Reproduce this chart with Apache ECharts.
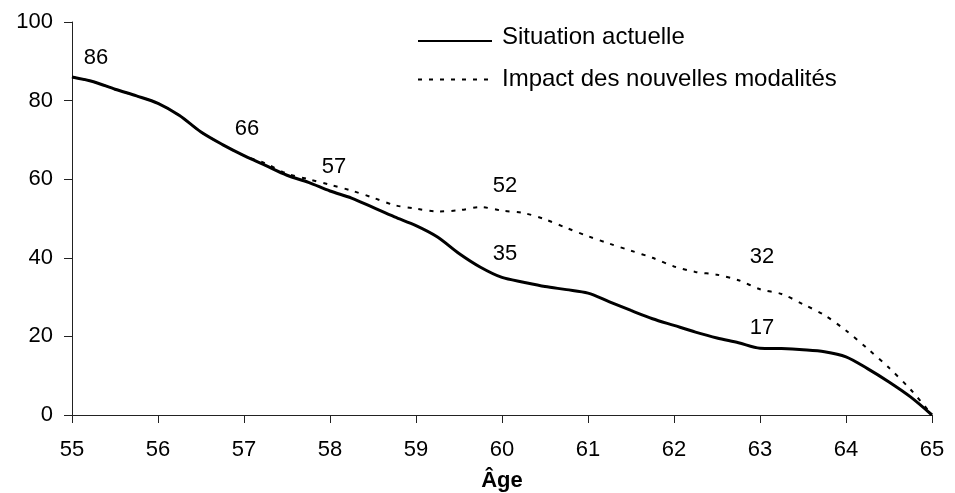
<!DOCTYPE html>
<html>
<head>
<meta charset="utf-8">
<script src="https://cdn.jsdelivr.net/npm/echarts@6/dist/echarts.min.js"></script>
<style>
  html, body { margin: 0; padding: 0; background: #fff; }
  #chart { width: 955px; height: 493px; }
</style>
</head>
<body>
<div id="chart"></div>
<script>
// Ages, sampled every quarter of a year
const ages = [
  55, 55.25, 55.5, 55.75, 56, 56.25, 56.5, 56.75,
  57, 57.25, 57.5, 57.75, 58, 58.25, 58.5, 58.75,
  59, 59.25, 59.5, 59.75, 60, 60.25, 60.5, 60.75,
  61, 61.25, 61.5, 61.75, 62, 62.25, 62.5, 62.75,
  63, 63.25, 63.5, 63.75, 64, 64.25, 64.5, 64.75, 65
];

const seriesNames = ['Situation actuelle', 'Impact des nouvelles modalités'];

const situationActuelle = [
  86, 84.8, 82.9, 81.2, 79.3, 76.2, 72.0, 68.8,
  66, 63.5, 61.0, 59.2, 57, 55.2, 52.8, 50.4,
  48.2, 45.3, 41.1, 37.6, 35, 33.8, 32.7, 31.9,
  31.0, 28.8, 26.6, 24.5, 22.8, 21.1, 19.6, 18.4,
  17, 16.9, 16.6, 16.1, 14.8, 11.8, 8.4, 4.6, 0
];

const nouvellesModalites = [
  86, 84.8, 82.9, 81.2, 79.3, 76.2, 72.0, 68.8,
  66, 64.0, 61.4, 60.0, 58.6, 57.1, 55.3, 53.4,
  52.5, 51.8, 52.1, 52.9, 52, 51.4, 49.8, 47.6,
  45.5, 43.6, 41.8, 40.0, 37.8, 36.4, 35.7, 34.3,
  32, 30.8, 28.2, 25.4, 21.5, 16.9, 12.0, 6.5, 0
];

// Ages whose value is printed next to the curve
const labelledAgesActuelle = [55, 57, 58, 60, 63];
const labelledAgesModalites = [60, 63];

const xTicks = { min: 55, max: 65, interval: 1 };
const yTicks = { min: 0, max: 100, interval: 20 };

// Label placement tweaks (pixels), keyed by age
const labelOffsetsActuelle = { 55: [24, -3], 57: [3, -11], 58: [4, -8], 60: [3, -8], 63: [2, -4] };
const labelOffsetsModalites = { 60: [3, -9], 63: [2, -16] };

const FONT = "'Liberation Sans', Arial, sans-serif";

function curve(values) {
  return ages.map(function (a, i) { return [a, values[i]]; });
}

// Invisible points carrying the printed values
function labelPoints(values, labelled, offsets) {
  return labelled.map(function (a) {
    const v = values[ages.indexOf(a)];
    return {
      value: [a, v],
      label: {
        show: true,
        position: 'top',
        distance: 5,
        offset: offsets[a] || [0, 0],
        formatter: String(v),
        color: '#000',
        opacity: 1,
        fontSize: 22,
        fontFamily: FONT
      }
    };
  });
}

const legendText = { color: '#000', fontSize: 24, fontFamily: FONT };

const chart = echarts.init(document.getElementById('chart'), null, { renderer: 'canvas' });

chart.setOption({
  animation: false,
  backgroundColor: '#ffffff',
  grid: { left: 72, right: 23, top: 22, bottom: 78, outerBoundsMode: 'none' },
  legend: {
    orient: 'vertical',
    left: 412,
    top: 20,
    itemWidth: 74,
    itemHeight: 24,
    itemGap: 17,
    data: seriesNames,
    itemStyle: { opacity: 0 },
    formatter: function (name) {
      return (name === seriesNames[0] ? '{hi|' : '{lo|') + name + '}';
    },
    textStyle: {
      color: '#000', fontSize: 24, fontFamily: FONT, padding: [0, 0, 0, 5],
      rich: {
        hi: Object.assign({ lineHeight: 32, verticalAlign: 'top' }, legendText),
        lo: Object.assign({ lineHeight: 24 }, legendText)
      }
    }
  },
  xAxis: {
    type: 'value',
    min: xTicks.min,
    max: xTicks.max,
    interval: xTicks.interval,
    name: 'Âge',
    nameLocation: 'middle',
    nameGap: 55,
    nameTextStyle: { color: '#000', fontSize: 22, fontWeight: 'bold', fontFamily: FONT },
    axisLine: { show: true, lineStyle: { color: '#222', width: 1 } },
    axisTick: { show: true, length: 8, lineStyle: { color: '#222' } },
    axisLabel: { color: '#000', fontSize: 22, fontFamily: FONT, margin: 24 },
    splitLine: { show: false }
  },
  yAxis: {
    type: 'value',
    min: yTicks.min,
    max: yTicks.max,
    interval: yTicks.interval,
    axisLine: { show: true, lineStyle: { color: '#222', width: 1 } },
    axisTick: { show: true, length: 8, lineStyle: { color: '#222' } },
    axisLabel: { color: '#000', fontSize: 22, fontFamily: FONT, margin: 19 },
    splitLine: { show: false }
  },
  series: [
    {
      name: seriesNames[1],
      type: 'line',
      data: curve(nouvellesModalites),
      symbol: 'none',
      smooth: 0.3,
      z: 2,
      lineStyle: { color: '#000', width: 2, type: [4, 7] },
      itemStyle: { color: '#000' }
    },
    {
      name: seriesNames[0],
      type: 'line',
      data: curve(situationActuelle),
      symbol: 'none',
      smooth: 0.3,
      z: 3,
      lineStyle: { color: '#000', width: 3, type: 'solid' },
      itemStyle: { color: '#000' }
    },
    {
      name: 'labels-actuelle',
      type: 'scatter',
      data: labelPoints(situationActuelle, labelledAgesActuelle, labelOffsetsActuelle),
      symbolSize: 0,
      itemStyle: { opacity: 1, color: '#000' },
      silent: true,
      z: 4
    },
    {
      name: 'labels-modalites',
      type: 'scatter',
      data: labelPoints(nouvellesModalites, labelledAgesModalites, labelOffsetsModalites),
      symbolSize: 0,
      itemStyle: { opacity: 1, color: '#000' },
      silent: true,
      z: 4
    }
  ]
});
</script>
</body>
</html>
